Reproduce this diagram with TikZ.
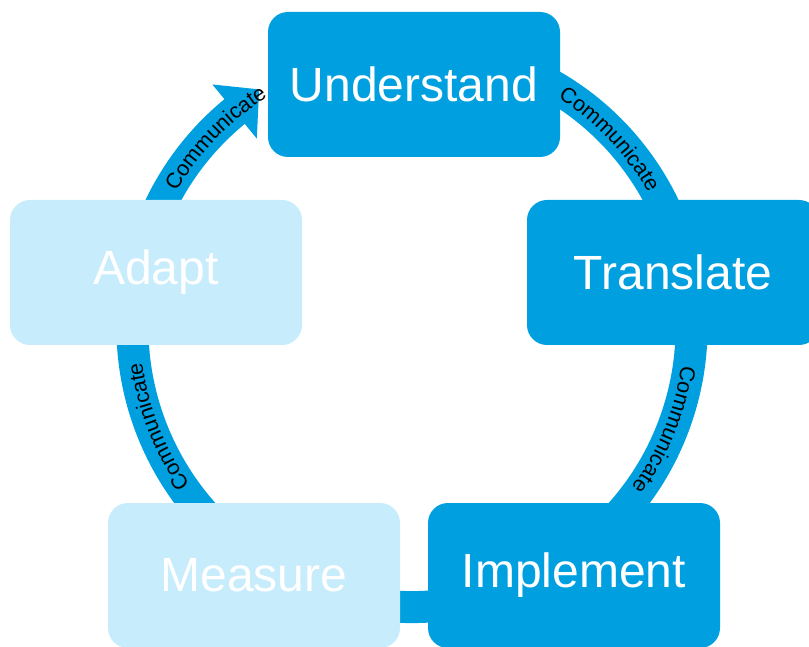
\documentclass[tikz,border=0pt]{standalone}
\usepackage{fontspec}
\setmainfont{Liberation Sans}
\usetikzlibrary{calc,decorations.text}
\definecolor{cycleblue}{RGB}{0,160,224}
\definecolor{paleblue}{RGB}{199,236,252}
\newcommand\stagefont{\fontsize{48}{56}\selectfont}
\newcommand\commfont{\fontsize{21.5}{25}\selectfont}

\begin{document}
\begin{tikzpicture}[x=1pt,y=1pt,
  stage/.style={rounded corners=20pt, minimum width=292pt, minimum height=145pt,
                inner sep=0pt, text=white, font=\stagefont},
  active/.style={stage, fill=cycleblue},
  pending/.style={stage, fill=paleblue},
  ringlabel/.style={decorate, decoration={text along path,
                text={|\commfont|Communicate}, text align=center}}
]
\useasboundingbox (0,0) rectangle (809,646);
\clip (0,0) rectangle (809,646);

% centre and radius of the cycle ring
\coordinate (hub) at (412,318.5);
\def\rr{279.5}

% ring running clockwise, ending in an arrowhead before "Understand"
\draw[cycleblue, line width=32pt] ($(hub)+(70:\rr)$)
  arc[start angle=70, end angle=-231.5, radius=\rr];
\fill[cycleblue] ($(hub)+(129.4:314.5)$) -- ($(hub)+(122.7:283)$)
  -- ($(hub)+(129.4:244.5)$) -- cycle;

% labels along the ring
\path[ringlabel] ($(hub)+(156:272)$) arc[start angle=156, end angle=116, radius=272];
\path[ringlabel] ($(hub)+(63.6:272)$) arc[start angle=63.6, end angle=23.6, radius=272];
\path[ringlabel] ($(hub)+(-2:272)$) arc[start angle=-2, end angle=-42, radius=272];
\path[ringlabel] ($(hub)+(221.3:272)$) arc[start angle=221.3, end angle=181.3, radius=272];

% stages
\node[active]  (understand) at (414,561.5) {Understand};
\node[active]  (translate)  at (673,373.5) {Translate};
\node[active]  (implement)  at (574,70.5)  {Implement};
\node[pending] (measure)    at (254,70.5)  {Measure};
\node[pending] (adapt)      at (156,373.5) {Adapt};
\end{tikzpicture}
\end{document}
